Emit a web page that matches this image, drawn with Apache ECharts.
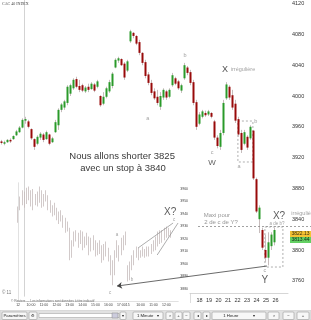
<!DOCTYPE html>
<html><head><meta charset="utf-8">
<script src="https://cdn.jsdelivr.net/npm/echarts@6/dist/echarts.min.js"></script>
<style>html,body{margin:0;padding:0;background:#fff}#c{width:311px;height:320px}</style>
</head><body><div id="c"></div>
<script>
// ---- main chart (hourly candles) ----
const mainOpen = [3941,3938,3940,3943,3944,3949,3953,3959,3968,3967,
3957,3944,3938,3946,3950,3944,3950,3940,3953,3962,
3982,3985,3991,4003,4010,4022,4013,4014,4006,4012,
4009,4015,4012,4000,3990,3999,4006,4013,4037,4046,
4048,4042,4033,4071,4082,4078,4070,4056,4044,4028,
4017,4006,3999,3986,3998,4006,3999,4014,4023,4019,
4007,4023,4037,4031,4018,3992,3964,3973,3978,3976,
3978,3967,3946,3934,3952,3997,4012,4001,3990,3970,
3952,3938,3947,3945,3955,3892,3840,3826,3800,3790,
3805,3810];
const mainClose = [3939,3940,3943,3941,3948,3954,3959,3969,3970,3960,
3945,3934,3947,3951,3943,3953,3938,3945,3966,3982,
3989,3993,4012,4014,4021,4012,4008,4007,4011,4008,
4016,4007,4019,3988,3999,4010,4018,4029,4047,4049,
4040,4024,4045,4084,4078,4068,4056,4043,4026,4017,
4004,3997,3991,4000,4008,3998,4008,4027,4016,4010,
4014,4040,4030,4017,3991,3960,3976,3980,3975,3980,
3973,3946,3935,3952,3991,4015,3998,3985,3968,3950,
3930,3953,3933,3960,3893,3850,3855,3803,3790,3810,
3820,3826];
const mainLow = [3937,3936,3939,3939,3943,3948,3952,3958,3964,3958,
3943,3930,3936,3943,3940,3943,3936,3939,3952,3956,
3979,3982,3988,4000,4008,4010,4005,4005,4004,4005,
4008,4005,4010,3986,3988,3997,4004,4010,4036,4043,
4039,4021,4031,4069,4075,4066,4053,4040,4023,4014,
4001,3995,3988,3982,3995,3995,3997,4012,4014,4008,
4004,4021,4027,4014,3988,3956,3962,3971,3973,3974,
3971,3943,3932,3930,3949,3995,3995,3982,3965,3947,
3926,3936,3930,3943,3891,3848,3822,3800,3784,3780,
3800,3806];
const mainHigh = [3943,3942,3944,3945,3949,3956,3961,3971,3973,3969,
3958,3945,3949,3953,3952,3955,3951,3947,3969,3984,
3991,3995,4014,4016,4023,4025,4021,4016,4013,4016,
4018,4017,4021,4001,4005,4012,4021,4031,4049,4051,
4049,4044,4047,4086,4083,4079,4073,4057,4047,4031,
4021,4010,4008,4005,4010,4008,4010,4030,4025,4021,
4016,4043,4039,4034,4021,3995,3979,3982,3981,3982,
3979,3969,3949,3956,3995,4018,4014,4008,3995,3973,
3956,3956,3949,3962,3956,3894,3858,3829,3820,3823,
3823,3829];
const mainSlots = 104;
const dayLabels = [18,19,20,21,22,23,24,25,26];
const mainTags = [[3820.8,'3822.13','#f2b400'],[3813.0,'3813.44','#3cc43c']];

// ---- inset chart (intraday candles) ----
const insetOpen = [3935,3944,3951,3956,3948,3957,3953,3949,3956,3950,
3954,3959,3950,3953,3956,3947,3944,3940,3945,3937,
3935,3940,3932,3929,3928,3906,3915,3924,3920,3916,
3925,3914,3920,3917,3910,3918,3913,3909,3914,3911,
3904,3912,3908,3905,3894,3889,3908,3916,3906,3918,
3914,3897,3889,3898,3903,3909,3906,3910,3907,3911,
3907,3911,3909,3913,3913,3918,3924,3919,3925,3921,
3928,3924];
const insetClose = [3944,3952,3956,3948,3958,3953,3949,3957,3950,3955,
3959,3950,3954,3957,3946,3943,3940,3946,3937,3934,
3941,3931,3928,3932,3906,3915,3924,3920,3916,3925,
3914,3920,3917,3910,3918,3913,3909,3914,3911,3904,
3912,3908,3905,3894,3888,3908,3916,3906,3918,3914,
3924,3889,3899,3904,3909,3907,3910,3906,3911,3907,
3912,3909,3914,3917,3920,3924,3919,3925,3921,3928,
3924,3923];
const insetLow = [3933,3943,3947,3945,3948,3951,3946,3943,3947,3946,
3949,3945,3946,3950,3943,3941,3938,3939,3935,3932,
3934,3929,3925,3926,3903,3905,3914,3918,3913,3916,
3911,3913,3915,3907,3910,3911,3906,3907,3908,3901,
3903,3906,3902,3891,3883,3891,3905,3902,3907,3911,
3915,3886,3887,3895,3899,3905,3903,3905,3906,3905,
3906,3906,3908,3910,3911,3914,3916,3917,3919,3921,
3922,3921];
const insetHigh = [3946,3954,3959,3958,3961,3962,3959,3960,3956,3958,
3962,3959,3956,3959,3955,3951,3947,3949,3945,3942,
3943,3939,3937,3934,3929,3919,3926,3927,3925,3927,
3926,3922,3925,3922,3921,3923,3919,3917,3919,3915,
3916,3918,3913,3907,3903,3911,3919,3915,3921,3923,
3926,3899,3902,3907,3911,3914,3913,3911,3914,3912,
3914,3914,3916,3919,3922,3926,3927,3927,3929,3930,
3929,3927];
const insetSlots = 75;
const insetTickIdx = [0,6,12,18,24,30,36,42,48,51,57,63,69];
const insetTickText = ['12','10:00','11:00','12:00','13:00','14:00','15:00','16:00','17:00','15','10:00','11:00','12:00'];
const insetTags = [[3922.4,'3922.40','#f2b400'],[3918.0,'3918.09','#e04040']];

// ---- annotations (in data coordinates) ----
const mainNotes = [
 [61.2,4053,'b','g'],[74.5,4034,'X','k9'],[80.5,4034,'irrégulière','g'],
 [48.8,3971,'a','g'],[70.2,3927,'c','g'],[70.2,3913,'W','k8'],
 [84.8,3967.5,'b','g'],[79.2,3908,'a','g'],
 [40.2,3922,'Nous allons shorter 3825','big'],[40.5,3906.5,'avec un stop à 3840','big'],
 [71.8,3845.5,'Maxi pour','g6'],[73.2,3836.4,'2 de c de Y?','g6'],
 [92.5,3844,'X?','k10'],[91.8,3834,'a de b?','g5'],[101.2,3846.8,'irrégulière?','g'],
 [87.8,3773,'c','g'],[87.8,3761,'Y','k10']
];
const insetNotes = [
 [70.7,3941.6,'X?','k10'],[72.6,3935.2,'c','g5'],[46,3923,'a','g5'],
 [53,3887,'b','g5'],[42.8,3876.8,'c','g5']
];
const mainBoxes = [[[78.8,3967.5],[83.8,3914.3]],[[87.8,3829.9],[93.8,3777.9]]];
const arrowLine = [[38.5,3753.2],[88.5,3779.2]];
const maxLevel = [[65.5,3831],[103.4,3831]];
const wedgeLines = [[[55.8,3912.8],[72.1,3932.8]],[[64.7,3907.2],[74.4,3932.8]]];

const UP = '#2a9a2a', DOWN = '#980a0a', WICK = '#c6bcbc';
const ST = {
  g:{color:'#8a8a8a',fontSize:5.5}, g5:{color:'#8a8a8a',fontSize:4.5}, g6:{color:'#7a7a7a',fontSize:6},
  k8:{color:'#333',fontSize:8}, k9:{color:'#222',fontSize:9}, k10:{color:'#333',fontSize:10},
  big:{color:'#000',fontSize:9.5}
};
function wick(o,c,l,h){return o.map((v,i)=>[v,c[i],l[i],h[i]]);}
function body(o,c){return o.map((v,i)=>[v,c[i],Math.min(v,c[i]),Math.max(v,c[i])]);}
function notes(list){return list.map(n=>({value:[n[0],n[1]],label:Object.assign({show:true,position:'inside',formatter:n[2]},ST[n[3]])}));}
function tagData(list){return list.map(t=>({value:[96,t[0]],label:{show:true,position:'right',distance:0,formatter:t[1],fontSize:5,color:'#000',backgroundColor:t[2],padding:[0.5,1.5]}}));}

const mainCats = Array.from({length:mainSlots},(_, i)=>'m'+i);
const insetCats = Array.from({length:insetSlots},(_, i)=>'i'+i);

const chart = echarts.init(document.getElementById('c'), null, {renderer:'canvas'});
const cand = {type:'candlestick', silent:true, emphasis:{disabled:true}};
const ann = {type:'scatter', symbolSize:1, itemStyle:{color:'rgba(0,0,0,0)'}, silent:true, clip:false, emphasis:{disabled:true}};

function btn(x,w,t){
  return [{type:'rect',shape:{x:x,y:312,width:w,height:7.5,r:1},style:{fill:'#f7f7f7',stroke:'#9a9a9a',lineWidth:0.6},z:100},
          {type:'text',x:x+w/2,y:315.8,style:{text:t,fontSize:4.3,fill:'#222',align:'center',verticalAlign:'middle'},z:101}];
}
const graphics = [].concat(
  [{type:'rect',shape:{x:0,y:310.5,width:311,height:9.5},style:{fill:'#e2e2e2',stroke:'#c4c4c4',lineWidth:0.5},z:99}],
  btn(2,25,'Paramètres'), btn(29,8,'⚙'),
  [{type:'rect',shape:{x:39,y:313.5,width:80,height:4},style:{fill:'#fff',stroke:'#999',lineWidth:0.5},z:100},
   {type:'rect',shape:{x:112,y:313,width:6,height:5},style:{fill:'#ccd',stroke:'#888',lineWidth:0.5},z:101}],
  btn(120,6,'▾'), btn(133,30,'1 Minute   ▾'), btn(166,7,'⌕'), btn(175,7,'+'), btn(183,7,'−'),
  btn(194,7,'◂'), btn(203,7,'▸'), btn(212,54,'1 Heure            ▾'),
  btn(268,11,'⌕'), btn(283,11,'−'), btn(297,12,'+'),
  [{type:'text',x:2,y:290.5,style:{text:'© 11',fontSize:4.5,fill:'#777'},z:50},
   {type:'text',x:11,y:299.5,style:{text:'© Reuters — Les informations sont données à titre indicatif',fontSize:3.2,fill:'#666'},z:50},
   {type:'line',shape:{x1:190.5,y1:293,x2:190.5,y2:303},style:{stroke:'#cfcfcf',lineWidth:0.7},z:50}]
);

chart.setOption({
  animation:false,
  textStyle:{fontFamily:'Liberation Sans, Arial, sans-serif'},
  title:{text:'CAC 40 INDEX',left:2,top:2,padding:0,textStyle:{fontSize:4,color:'#444',fontWeight:'normal',fontFamily:'Liberation Serif, serif'}},
  grid:[
    {left:0,right:-1,top:-11.8,height:308,outerBoundsMode:'none',containLabel:false},
    {left:17,width:161.25,top:182.75,height:118.75,outerBoundsMode:'none',containLabel:false},
    {left:190,width:98,top:292,height:1,outerBoundsMode:'none',containLabel:false}
  ],
  xAxis:[
    {gridIndex:0,type:'category',data:mainCats,boundaryGap:true,show:false},
    {gridIndex:0,type:'value',min:-0.5,max:mainSlots-0.5,show:false},
    {gridIndex:1,type:'category',data:insetCats,boundaryGap:true,
      axisLine:{show:true,lineStyle:{color:'#cccccc',width:0.6}},axisTick:{show:false},splitLine:{show:false},
      axisLabel:{show:true,fontSize:3.5,color:'#444',margin:2,hideOverlap:false,
        interval:(i)=>insetTickIdx.indexOf(i)>=0,
        formatter:(v,i)=>{const k=insetTickIdx.indexOf(i);return k>=0?insetTickText[k]:'';}}},
    {gridIndex:1,type:'value',min:-0.5,max:insetSlots-0.5,show:false},
    {gridIndex:2,type:'value',min:17,max:27.3158,interval:1,
      axisLine:{show:true,lineStyle:{color:'#c4c4c4',width:0.7}},axisTick:{show:false},splitLine:{show:false},
      axisLabel:{fontSize:5.5,color:'#333',margin:4,showMinLabel:true,showMaxLabel:true,hideOverlap:false,
        formatter:(v)=>(dayLabels.indexOf(v)>=0?String(v):'')}}
  ],
  yAxis:[
    {gridIndex:0,type:'value',position:'right',offset:-24,min:3740,max:4140,interval:20,scale:true,
      axisLine:{show:true,lineStyle:{color:'#c8c8c8',width:0.8}},axisTick:{show:false},splitLine:{show:false},
      axisLabel:{fontSize:5.5,color:'#333',margin:4,hideOverlap:false,
        formatter:(v)=>(v%40===0&&v>=3760&&v<=4120)?String(v):''}},
    {gridIndex:1,type:'value',position:'right',min:3870,max:3965,interval:10,scale:true,
      axisLine:{show:true,lineStyle:{color:'#cccccc',width:0.6}},axisTick:{show:false},splitLine:{show:false},
      axisLabel:{fontSize:3.5,color:'#444',margin:2,hideOverlap:false,
        formatter:(v)=>(v%10===0&&v>=3880&&v<=3960)?String(v):''}},
    {gridIndex:2,type:'value',show:false}
  ],
  series:[
    Object.assign({},cand,{xAxisIndex:0,yAxisIndex:0,barWidth:1,data:wick(mainOpen,mainClose,mainLow,mainHigh),
      itemStyle:{color:WICK,color0:WICK,borderColor:WICK,borderColor0:WICK,borderWidth:1}}),
    Object.assign({},cand,{xAxisIndex:0,yAxisIndex:0,barWidth:2,data:body(mainOpen,mainClose),
      itemStyle:{color:UP,color0:DOWN,borderColor:UP,borderColor0:DOWN,borderWidth:0}}),
    Object.assign({},ann,{xAxisIndex:1,yAxisIndex:0,data:notes(mainNotes).concat(tagData(mainTags)),
      markLine:{silent:true,animation:false,label:{show:false},
        data:[
          [{coord:arrowLine[0],symbol:'arrow',symbolSize:5,lineStyle:{color:'#444',width:0.8,type:'solid'}},{coord:arrowLine[1],symbol:'none'}],
          [{coord:maxLevel[0],symbol:'none',lineStyle:{color:'#8a8a8a',width:0.8,type:[2,2]}},{coord:maxLevel[1],symbol:'none'}]
        ]},
      markArea:{silent:true,itemStyle:{color:'rgba(0,0,0,0)',borderColor:'#9a9a9a',borderWidth:0.8,borderType:[2,2]},
        data:mainBoxes.map(b=>[{coord:b[0]},{coord:b[1]}])}}),
    Object.assign({},cand,{xAxisIndex:2,yAxisIndex:1,barWidth:0.8,data:wick(insetOpen,insetClose,insetLow,insetHigh),
      itemStyle:{color:WICK,color0:WICK,borderColor:WICK,borderColor0:WICK,borderWidth:0.8}}),
    Object.assign({},cand,{xAxisIndex:2,yAxisIndex:1,barWidth:1.3,data:body(insetOpen,insetClose),
      itemStyle:{color:UP,color0:DOWN,borderColor:UP,borderColor0:DOWN,borderWidth:0},
      markLine:{silent:true,symbol:'none',animation:false,
        data:insetTags.map(t=>({yAxis:t[0],lineStyle:{opacity:0},
          label:{show:true,position:'end',distance:1,formatter:t[1],fontSize:3.5,color:'#000',backgroundColor:t[2],padding:[0.3,1]}}))}}),
    Object.assign({},ann,{xAxisIndex:3,yAxisIndex:1,data:notes(insetNotes),
      markLine:{silent:true,symbol:'none',animation:false,label:{show:false},
        lineStyle:{color:'#8a8a8a',width:0.7,type:'solid'},
        data:wedgeLines.map(w=>[{coord:w[0]},{coord:w[1]}])}})
  ],
  graphic:graphics
});
</script></body></html>
